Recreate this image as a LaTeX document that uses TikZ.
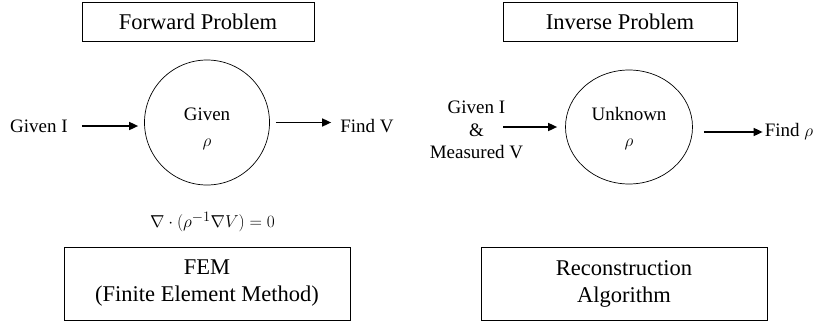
\documentclass[tikz,border=0pt]{standalone}
\usepackage{fontspec}
\setmainfont{Liberation Serif}
\usetikzlibrary{shapes.geometric,arrows.meta}
\begin{document}
\begin{tikzpicture}[x=1pt,y=-1pt,
  titlebox/.style={draw,line width=0.8pt,inner sep=0pt,font=\fontsize{22.5}{27}\selectfont,align=center},
  lbl/.style={inner sep=0pt,font=\fontsize{19}{23}\selectfont,align=center},
  blob/.style={draw,line width=0.7pt,inner sep=0pt,font=\fontsize{19}{26}\selectfont,align=center},
  arr/.style={line width=1.6pt,-{Triangle[length=9pt,width=8pt]}}]
\useasboundingbox (0,0) rectangle (817,322);
% left column
\node[titlebox,minimum width=232pt,minimum height=39pt] (fwd) at (198,21.5) {Forward Problem};
\node[blob,circle,minimum size=125pt] (c1) at (207,122.5) {};
\node[lbl,font=\fontsize{19}{26}\selectfont] (c1t) at (207,129) {Given\\$\rho$};
\node[lbl] (gI) at (39,126) {Given I};
\node[lbl] (fV) at (367,126) {Find V};
\draw[arr,shorten <=14pt,shorten >=6pt] (gI.east) -- (gI.east -| c1.west);
\draw[arr,shorten <=6pt,shorten >=9pt] (c1.east) -- (c1.east -| fV.west);
\node[lbl] (eq) at (212.5,222) {$\nabla\cdot(\rho^{-1}\nabla V)=0$};
\node[titlebox,minimum width=286pt,minimum height=73pt] (fem) at (207,283.5) {FEM\\(Finite Element Method)};
% right column
\node[titlebox,minimum width=234pt,minimum height=39pt] (inv) at (620,21.5) {Inverse Problem};
\node[blob,ellipse,minimum width=127pt,minimum height=114pt] (c2) at (629,127) {};
\node[lbl,font=\fontsize{19}{26}\selectfont] (c2t) at (629,129) {Unknown\\$\rho$};
\node[lbl,font=\fontsize{19}{22.5}\selectfont] (gIM) at (476.5,130) {Given I\\\&\\Measured V};
\coordinate (a2s) at (503,127);
\draw[arr,shorten >=8pt] (a2s) -- (a2s -| c2.west);
\node[lbl] (fR) at (789,132) {Find $\rho$};
\draw[arr,shorten <=11pt,shorten >=2pt] (c2.east |- fR.west) -- (fR.west);
\node[titlebox,minimum width=286pt,minimum height=73pt] (rec) at (624,283.5) {Reconstruction\\Algorithm};
\end{tikzpicture}
\end{document}
